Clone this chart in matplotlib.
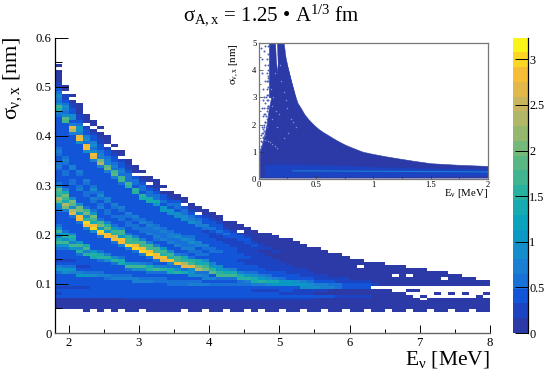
import numpy as np
import matplotlib
matplotlib.use('Agg')
import matplotlib.pyplot as plt
from matplotlib.colors import ListedColormap, BoundaryNorm

plt.rcParams['font.family'] = ['Liberation Serif', 'DejaVu Sans']
plt.rcParams['mathtext.fontset'] = 'custom'
plt.rcParams['mathtext.rm'] = 'Liberation Serif'
plt.rcParams['mathtext.it'] = 'Liberation Serif'
plt.rcParams['mathtext.bf'] = 'Liberation Serif:bold'

W, H = 545, 371
PX = 72 / 100  # one pixel in points

# colour bar bands read bottom to top
palette = ["#2b3aa6", "#1c44c2", "#1255d8", "#1771d6", "#1a7fd2", "#148dca", "#0b98c4",
           "#0aa3be", "#15abb0", "#28b1a0", "#41b490", "#5ab683", "#74b87a", "#96b86e",
           "#b2b768", "#c9b55d", "#e3b84a", "#f7bd36", "#fbd625", "#f9f51a"]
z_max = 3.24

# main histogram, one string per 0.1 MeV column, first char is the sigma bin at 0.042 nm
# chars are rough intensity steps 0-9,a-j, '.' is an empty bin
energy_start = 1.8
energy_step = 0.1
sigma_start = 0.042
sigma_step = 0.006
columns = [
    ".011243534" "4546974344" "568ca78c96" "4455679efb" "cd96544567" "6556765444" "45555567bc" "8678643321" "10.0",
    ".011244534" "4458964344" "569c8b9654" "44557eface" "a754456655" "6765444445" "5555cd8678" "6433.10",
    ".011245534" "4457964344" "59c7ab7544" "456gf8de85" "4456654577" "5444445555" "7fg7588543" "32.0",
    ".011245534" "4597434456" "b8c9544445" "6hh9ee8544" "5765446754" "44444558hg" "78964332110",
    "0011245534" "459643445b" "7ca544457h" "ib8ec65446" "6546754444" "44558hh687" "543.210",
    ".011245544" "45864444ab" "95444458ih" "ace9654675" "6865444444" "47gh868754" "32.10",
    "0011245544" "45764446ba" "644446hi9e" "c654476568" "6544444457" "fe77654332" "1.0",
    ".012245544" "46754448b7" "54444hh9db" "7546655775" "44444457ed" "776543.210",
    "0012245544" "4765446b85" "4446hgbc96" "4565567544" "444457dc67" "65432.0",
    ".012245554" "476545aa64" "447hh9cc75" "5665675444" "4446cc6765" "43.10",
    "0012345554" "47656c9544" "47iccb6556" "6567544444" "45bc666433" "10",
    "0012345554" "77558c8544" "6ihcb75566" "5675444445" "bb5664.210",
    ".012345554" "76558c7557" "ihcc755665" "76544444ab" "566432.0",
    "0012345554" "7656ba656i" "hcc7557667" "6544444aa6" "653.10",
    "0012345554" "6656c856hh" "cc75676676" "5444449a66" "53210",
    "0012345554" "6656b75ghb" "c955766765" "4444995654" "2.0",
    "0012345556" "655aa68hbc" "8557677654" "4448956531" "0",
    "0012345556" "655b86hcc7" "5576686554" "4488566420",
    ".012345556" "655a6gfba6" "5766865544" "488665.10",
    "0012345557" "65888gcb65" "6768765444" "8765310",
    "0012345557" "6586feaa56" "6577554447" "765.10",
    ".012345557" "5776eca856" "5675544367" "54310",
    "0012345456" "575db97555" "6654433565" "4310",
    "0012345456" "56cb985555" "6544335644" "310",
    ".012345456" "56ca855445" "54433464310",
    "0012345446" "56ca754445" "44333543210",
    "0012344446" "6ba7544344" "3333543.10",
    ".012344446" "7b96443343" "333443210",
    "0012344347" "aa86443333" "33432110",
    ".012344347" "b975433333" "2332110",
    "0012344348" "a865333332" "2321100",
    "0012344349" "a754333322" "321100",
    ".012343449" "9644333222" "21100",
    "0011343449" "9543332221" "11100",
    "0011343349" "8543322221" "1100",
    ".011343389" "7433322211" "100",
    "0011343388" "6433222111" "10",
    "0011242387" "5332221111" "00",
    ".011242377" "4332211111" "0",
    "0011242276" "4322211110",
    "0011232266" "3322111100",
    ".011232255" "332211100",
    "0011132155" "32211000",
    "0011132145" "32111.00",
    ".011132144" "3211000",
    "00111221.3" "2110100",
    "00111221.2" "1110100",
    ".0111121.2" "111000",
    "0011112..1" "11.000",
    "0011111..1" "110000",
    ".01101.1.1" "10.00",
    "00110..1.0" "01000",
    "0011.1...1" "10000",
    ".0110....1" "0000",
    "00110.1..0" "0000",
    "00100....0" "0.00",
    ".0100.0..0" "000",
    "00100....0" "000",
    "00100.0..0" "00",
    ".0100....0" "00",
    "001000...0" "0",
    "00100.0..0" "0",
]
# which colour band each intensity step falls in
step_bands = [0, 0, 0, 1, 2, 2, 3, 4, 5, 6, 8, 9, 10, 11, 12, 14, 16, 17, 18, 19]

# inset outline, sigma top of the filled body against energy
inset_energy = [0.01, 0.03, 0.05, 0.07, 0.09, 0.12, 0.15, 0.18, 0.22, 0.24, 0.26, 0.28, 0.30, 0.32, 0.34, 0.37,
                0.40, 0.44, 0.48, 0.52, 0.56, 0.60, 0.65, 0.70, 0.75, 0.80, 0.86, 0.91, 1.00, 1.10, 1.20, 1.35,
                1.50, 1.75, 2.00]
inset_top = [1.0, 1.25, 1.6, 2.0, 2.6, 3.2, 3.6, 4.6, 4.5, 4.25, 4.0, 3.65, 3.35, 3.05, 2.8, 2.6,
             2.38, 2.17, 2.0, 1.85, 1.73, 1.63, 1.5, 1.38, 1.27, 1.18, 1.08, 1.0, 0.92, 0.84, 0.77, 0.67,
             0.58, 0.52, 0.48]
# the two stripes that run out of the top
stripe_sigma = [5.0, 4.5, 4.0, 3.5, 3.0]
stripe1_left = [0.09, 0.09, 0.09, 0.09, 0.09]
stripe1_right = [0.145, 0.15, 0.16, 0.17, 0.18]
stripe2_left = [0.16, 0.165, 0.17, 0.18, 0.19]
stripe2_right = [0.22, 0.235, 0.26, 0.29, 0.32]
# brighter bands low in the inset
band_energy = [0.05, 0.3, 0.6, 1.0, 1.5, 2.0]
band_low = [0.08, 0.08, 0.08, 0.08, 0.10, 0.12]
band_high = [0.55, 0.55, 0.52, 0.45, 0.40, 0.38]
line_energy = [0.3, 0.8, 1.2, 1.7, 2.0]
line_sigma = [0.30, 0.29, 0.28, 0.27, 0.26]
# loose points outside the body and pale flecks inside it
dots_energy = [0.02, 0.03, 0.05, 0.03, 0.06, 0.07, 0.04, 0.08, 0.05, 0.07, 0.03, 0.06, 0.08, 0.04, 0.07,
               0.05, 0.08, 0.06, 0.03, 0.08, 0.04, 0.07, 0.05, 0.08, 0.06, 0.07, 0.04, 0.08, 0.06, 0.02,
               0.07, 0.08, 0.085, 0.075, 0.08, 0.065, 0.085, 0.055, 0.06, 0.045, 0.05, 0.04, 0.035, 0.03,
               0.025, 0.02, 0.015, 0.07, 0.08, 0.075, 0.085, 0.08, 0.07, 0.06, 0.05, 0.085, 0.075, 0.065,
               0.04, 0.03]
dots_sigma = [4.8, 4.4, 4.7, 3.9, 4.2, 3.6, 3.3, 4.6, 3.0, 3.1, 2.6, 2.8, 4.0, 2.3, 2.6,
              2.4, 3.4, 2.1, 1.9, 2.7, 1.7, 1.9, 1.9, 2.3, 3.6, 4.4, 2.9, 3.8, 1.6, 1.4,
              2.2, 2.9, 3.1, 3.3, 3.7, 3.0, 4.2, 2.1, 2.4, 2.0, 1.75, 1.55, 1.5, 1.35, 1.2, 1.6, 1.1, 2.5,
              2.6, 2.9, 3.6, 4.9, 3.9, 4.9, 2.6, 2.7, 2.05, 2.3, 1.85, 1.7]
flecks_energy = [0.06, 0.08, 0.10, 0.12, 0.14, 0.16, 0.12, 0.15, 0.13, 0.20, 0.22, 0.24, 0.25, 0.19,
                 0.30, 0.33, 0.28, 0.26, 0.22, 0.16, 0.12, 0.11, 0.14, 0.18]
flecks_sigma = [1.45, 1.4, 1.35, 1.3, 1.2, 1.15, 2.2, 2.5, 3.0, 3.6, 3.2, 2.9, 2.6, 4.2,
                2.1, 1.9, 2.2, 1.7, 1.5, 1.9, 2.7, 3.3, 3.9, 2.4]

x_ticks = [2, 3, 4, 5, 6, 7, 8]
y_ticks = [0, 0.1, 0.2, 0.3, 0.4, 0.5, 0.6]
z_ticks = [0, 0.5, 1, 1.5, 2, 2.5, 3]
inset_x_ticks = [0, 0.5, 1, 1.5, 2]
inset_y_ticks = [0, 1, 2, 3, 4, 5]


def axes_px(fig, left, top, right, bottom):
    return fig.add_axes([left / W, 1 - bottom / H, (right - left) / W, (bottom - top) / H])


def tick_label(v):
    return f'{v:g}'


fig = plt.figure(figsize=(W / 100, H / 100), dpi=100)
cmap = ListedColormap(palette)
norm = BoundaryNorm(np.linspace(0, z_max, len(palette) + 1), cmap.N)

# main histogram
n_rows = max(len(c) for c in columns)
grid = np.full((n_rows, len(columns)), np.nan)
for i, col in enumerate(columns):
    for j, ch in enumerate(col):
        if ch != '.':
            grid[j, i] = (step_bands[int(ch, 20)] + 0.5) * z_max / len(palette)
e_edges = energy_start + energy_step * np.arange(len(columns) + 1)
s_edges = sigma_start + sigma_step * np.arange(n_rows + 1)

ax = axes_px(fig, 54.5, 37.5, 490, 333)
ax.pcolormesh(e_edges, s_edges, np.ma.masked_invalid(grid), cmap=cmap, norm=norm)
ax.set_xlim(1.8, 8)
ax.set_ylim(0, 0.6)
ax.spines['top'].set_visible(False)
ax.spines['right'].set_visible(False)
ax.spines['bottom'].set_color('#666666')
ax.spines['bottom'].set_linewidth(1.0)
ax.spines['left'].set_linewidth(0.9)
ax.set_xticks(x_ticks)
ax.set_xticklabels([tick_label(v) for v in x_ticks])
ax.set_yticks(y_ticks)
ax.set_yticklabels([tick_label(v) for v in y_ticks])
ax.set_xticks(np.arange(2.5, 8, 1), minor=True)
ax.set_yticks(np.arange(0.05, 0.6, 0.1), minor=True)
ax.tick_params(axis='x', which='major', direction='in', length=8 * PX, width=0.7, labelsize=9.2, pad=3)
ax.tick_params(axis='x', which='minor', direction='in', length=4.5 * PX, width=0.7)
ax.tick_params(axis='y', which='major', direction='in', length=13 * PX, width=0.7, labelsize=9.2, pad=2)
ax.tick_params(axis='y', which='minor', direction='in', length=7 * PX, width=0.7)

fig.text(490 / W, 1 - 365 / H, r'E$_{\nu}$ [MeV]', fontsize=15.5, ha='right', va='baseline')
fig.text(24 / W, 1 - 37 / H, r'$\sigma_{\nu,\mathrm{x}}$ [nm]', fontsize=16, rotation=90,
         ha='right', va='top')
fig.text(271 / W, 1 - 21 / H, r'$\sigma_{\mathrm{A,x}}$ = 1.25 • A$^{1/3}$ fm', fontsize=15,
         ha='center', va='baseline')

# colour bar
cax = axes_px(fig, 512.5, 37.5, 528, 333)
z_edges = np.linspace(0, z_max, len(palette) + 1)
cax.pcolormesh([0, 1], z_edges, ((z_edges[:-1] + z_edges[1:]) / 2)[:, None], cmap=cmap, norm=norm)
cax.set_ylim(0, z_max)
cax.set_xticks([])
for side in ['top', 'left', 'bottom']:
    cax.spines[side].set_visible(False)
cax.spines['right'].set_linewidth(0.9)
cax.yaxis.tick_right()
cax.set_yticks(z_ticks)
cax.set_yticklabels([tick_label(v) for v in z_ticks])
cax.tick_params(axis='y', direction='in', length=13 * PX, width=0.7, labelsize=8.8, pad=1)

# inset
iax = axes_px(fig, 258.5, 43, 488, 179)
blue = palette[0]
iax.fill_between(inset_energy, 0.05, inset_top, color=blue, lw=0.4, zorder=1)
iax.fill_betweenx(stripe_sigma, stripe1_left, stripe1_right, color=blue, lw=0.3, zorder=1)
iax.fill_betweenx(stripe_sigma, stripe2_left, stripe2_right, color=blue, lw=0.3, zorder=1)
iax.fill_between(band_energy, band_low, band_high, color=palette[1], lw=0, zorder=1.1)
iax.plot(line_energy, line_sigma, color=palette[4], lw=0.8, zorder=1.2)
iax.scatter(dots_energy, dots_sigma, s=2.0, color='#4a5cc0', linewidths=0, zorder=1.3)
iax.scatter(flecks_energy, flecks_sigma, s=1.2, color='#7f8fd8', linewidths=0, zorder=1.3)
iax.set_xlim(0, 2)
iax.set_ylim(0, 5)
for spine in iax.spines.values():
    spine.set_color('#777777')
    spine.set_linewidth(0.9)
iax.set_xticks(inset_x_ticks)
iax.set_xticklabels([tick_label(v) for v in inset_x_ticks])
iax.set_yticks(inset_y_ticks)
iax.set_yticklabels([tick_label(v) for v in inset_y_ticks])
iax.set_xticks(np.arange(0.25, 2, 0.5), minor=True)
iax.set_yticks(np.arange(0.5, 5, 1), minor=True)
iax.tick_params(axis='both', which='major', direction='in', length=4 * PX, width=0.5, labelsize=6.2, pad=1.5,
                color='#333333')
iax.tick_params(axis='both', which='minor', direction='in', length=2 * PX, width=0.5, color='#333333')

fig.text(488 / W, 1 - 196 / H, r'E$_{\nu}$ [MeV]', fontsize=7.8, ha='right', va='baseline')
fig.text(241 / W, 1 - 43 / H, r'$\sigma_{\nu,\mathrm{x}}$ [nm]', fontsize=7.8, rotation=90,
         ha='right', va='top')

fig.savefig('out.png', dpi=100, facecolor='white')
